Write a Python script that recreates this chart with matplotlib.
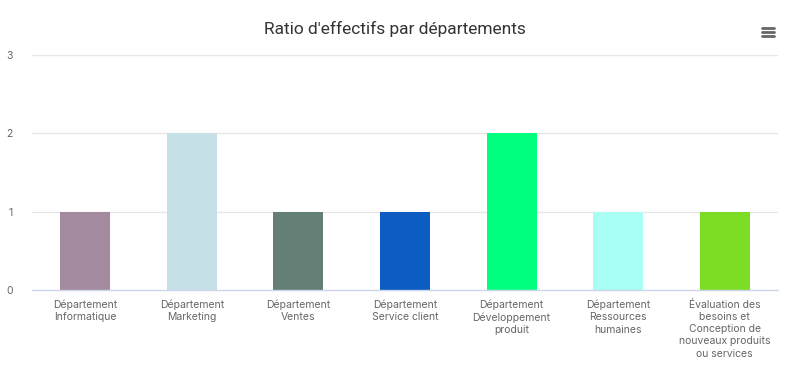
import matplotlib
matplotlib.use("Agg")
import matplotlib.pyplot as plt
from matplotlib.lines import Line2D

categories = [
    "Département\nInformatique",
    "Département\nMarketing",
    "Département\nVentes",
    "Département\nService client",
    "Département\nDéveloppement\nproduit",
    "Département\nRessources\nhumaines",
    "Évaluation des\nbesoins et\nConception de\nnouveaux produits\nou services",
]
values = [1, 2, 1, 1, 2, 1, 1]
colors = ["#A48A9E", "#C6E0E8", "#637F76", "#0D5CC2", "#00FF7F", "#AAFFF4", "#7DDC25"]
yticks = [0, 1, 2, 3]
title = "Ratio d'effectifs par départements"

fig = plt.figure(figsize=(7.96, 3.71), dpi=100)
ax = fig.add_axes([32/796, 1-290/371, (778-32)/796, (290-55)/371])

x = list(range(len(categories)))
ax.bar(x, values, width=0.47, color=colors, zorder=3)
ax.set_xlim(-0.5, len(categories)-0.5)
ax.set_ylim(0, 3)
ax.set_yticks(yticks)
ax.set_yticklabels([str(v) for v in yticks], fontsize=7.5, color="#666666", family="Inter")
ax.set_xticks(x)
ax.set_xticklabels(categories, fontsize=7.5, color="#666666", family="Inter", linespacing=1.28)
ax.tick_params(axis="y", length=0, pad=14)
ax.tick_params(axis="x", length=0, pad=7)
for yy in yticks[1:]:
    ax.axhline(yy, color="#e6e6e6", lw=0.9, zorder=1)
for s in ["top", "right", "left"]:
    ax.spines[s].set_visible(False)
ax.spines["bottom"].set_color("#ccd6eb")
ax.spines["bottom"].set_linewidth(1)
ax.spines["bottom"].set_zorder(4)

fig.text(395/796, 1-29/371, title, ha="center", va="center", fontsize=12.5,
         color="#333333", family="Roboto")

# menu icon
for dy in [-4, 0, 4]:
    yy = 1-(32+dy)/371
    fig.add_artist(Line2D([762/796, 774/796], [yy, yy], color="#666666", lw=2,
                          solid_capstyle="round", transform=fig.transFigure))

fig.savefig("out.png", dpi=100)
